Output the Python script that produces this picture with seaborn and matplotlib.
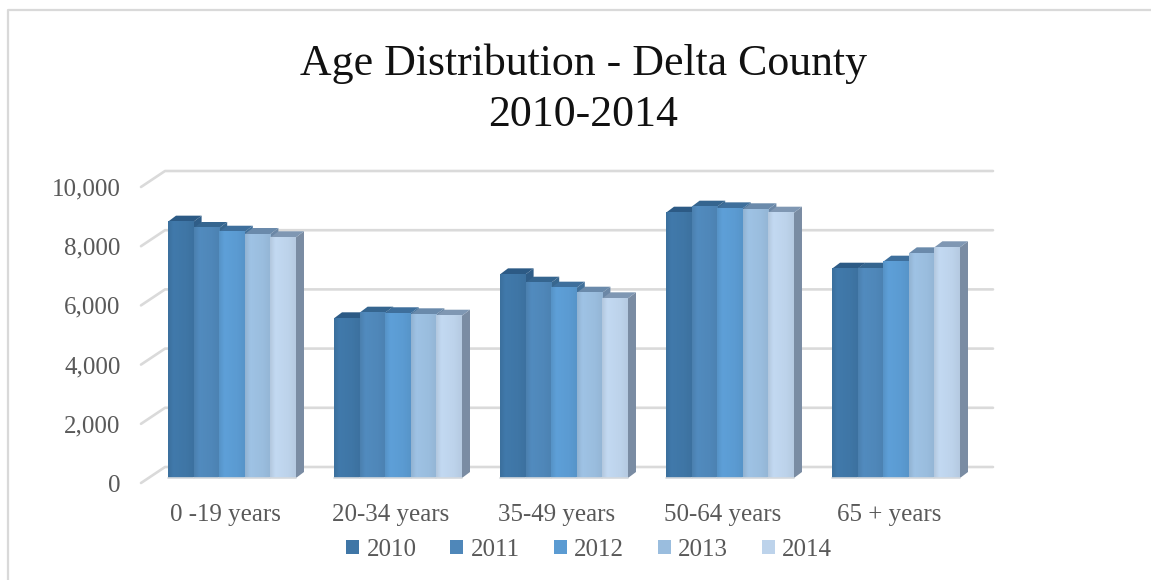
import matplotlib
matplotlib.use("Agg")
import matplotlib.pyplot as plt
import seaborn as sns
import numpy as np
import pandas as pd
from matplotlib.colors import to_rgb
from matplotlib.patches import Polygon
from matplotlib.transforms import Affine2D, IdentityTransform

# values
age_groups = ['0 -19 years', '20-34 years', '35-49 years', '50-64 years', '65 + years']
years = ['2010', '2011', '2012', '2013', '2014']
y2010 = [8660, 5395, 6880, 8963, 7071]
y2011 = [8446, 5585, 6598, 9166, 7071]
y2012 = [8320, 5565, 6430, 9110, 7308]
y2013 = [8243, 5530, 6260, 9078, 7590]
y2014 = [8132, 5483, 6070, 8963, 7794]
y_ticks = [0, 2000, 4000, 6000, 8000, 10000]

FRONT = ['#3F76A6', '#4F87B9', '#5B9BD2', '#9ABDDE', '#BDD3EB']
TOPS = ['#2C5A85', '#35658F', '#3E6F9C', '#6A8AAB', '#7F97B3']
SIDES = ['#2F5D88', '#38678F', '#41709A', '#6B87A6', '#7A8CA3']
TEXT = '#595959'
GRID = '#DADADA'

W, H = 1151, 580
AX_LEFT, AX_RIGHT, AX_BASE, AX_TOP = 149, 979, 478, 182
BAR_DX, BAR_DY = 8, 6


def bar_shade(colour):
    # soft left to right falloff like the office 3D bars
    base = np.array(to_rgb(colour))
    pos = np.linspace(0, 1, 24)
    factor = np.interp(pos, [0, 0.2, 0.7, 1], [0.95, 1.03, 1.0, 0.96])
    return np.clip(base[None, :] * factor[:, None], 0, 1)[None, :, :]


df = pd.DataFrame({'age': age_groups, '2010': y2010, '2011': y2011, '2012': y2012,
                   '2013': y2013, '2014': y2014})
long_df = df.melt(id_vars='age', var_name='year', value_name='people')

sns.set_theme(style='white')
plt.rcParams['font.family'] = ['Liberation Serif', 'DejaVu Serif']

fig = plt.figure(figsize=(W / 100, H / 100), dpi=100)
ax = fig.add_axes([AX_LEFT / W, 1 - AX_BASE / H, (AX_RIGHT - AX_LEFT) / W, (AX_BASE - AX_TOP) / H])

sns.barplot(data=long_df, x='age', y='people', hue='year', order=age_groups, hue_order=years,
            palette=FRONT, width=0.771, gap=0, saturation=1, ax=ax, linewidth=0)
ax.set_xlim(-0.5, 4.5)
ax.set_ylim(0, 10000)
ax.set_xlabel('')
ax.set_ylabel('')
sns.despine(ax=ax, left=True, bottom=True)
ax.patch.set_alpha(0)

ax.set_yticks(y_ticks)
ax.set_yticklabels([f'{v:,}' for v in y_ticks])
ax.tick_params(axis='y', length=0, pad=20.5, labelsize=18, labelcolor=TEXT)
ax.tick_params(axis='x', length=0, pad=19, labelsize=18, labelcolor=TEXT)
for lab in ax.get_yticklabels():
    lab.set_transform(lab.get_transform() + Affine2D().translate(0, -5))
for lab in ax.get_xticklabels():
    lab.set_transform(lab.get_transform() + Affine2D().translate(-7, 0))

# back wall gridlines plus the short floor ticks at their left ends
to_px = ax.transData
for v in y_ticks:
    x0, y0 = to_px.transform((-0.5, v))
    x1, _ = to_px.transform((4.5, v))
    ax.plot([x0 - 8, x0 + 16, x1 + 14], [y0 - 5, y0 + 11, y0 + 11], color=GRID, lw=1.9,
            transform=IdentityTransform(), clip_on=False, zorder=0.5, solid_joinstyle='round')

# pseudo 3D: top and side faces follow each seaborn bar
z = 2
all_bars = []
for i, cont in enumerate(ax.containers):
    for bar in cont:
        all_bars.append((bar.get_x(), i, bar))
for _, i, bar in sorted(all_bars, key=lambda t: t[0]):
    (xa, ya), (xb, yb) = to_px.transform([(bar.get_x(), 0), (bar.get_x() + bar.get_width(), bar.get_height())])
    top = [(xa, yb), (xb, yb), (xb + BAR_DX, yb + BAR_DY), (xa + BAR_DX, yb + BAR_DY)]
    side = [(xb, ya), (xb, yb), (xb + BAR_DX, yb + BAR_DY), (xb + BAR_DX, ya + BAR_DY)]
    ax.add_patch(Polygon(side, closed=True, fc=SIDES[i], ec='none', transform=IdentityTransform(),
                         clip_on=False, zorder=z))
    ax.add_patch(Polygon(top, closed=True, fc=TOPS[i], ec='none', transform=IdentityTransform(),
                         clip_on=False, zorder=z + 0.1))
    bar.set_zorder(z + 0.2)
    ax.imshow(bar_shade(FRONT[i]), aspect='auto', interpolation='bilinear', zorder=z + 0.3,
              extent=(bar.get_x(), bar.get_x() + bar.get_width(), 0, bar.get_height()))
    ax.plot([xa, xb], [ya, ya], color='#D4D8DC', lw=1.2, transform=IdentityTransform(),
            clip_on=False, zorder=z + 0.4)
    z += 1
ax.set_xlim(-0.5, 4.5)
ax.set_ylim(0, 10000)

handles, labels = ax.get_legend_handles_labels()
ax.legend(handles, labels, ncol=5, frameon=False, loc='center', fontsize=18, labelcolor=TEXT,
          bbox_to_anchor=(589 / W, 1 - 550 / H), bbox_transform=fig.transFigure,
          handlelength=0.52, handleheight=0.52, handletextpad=0.28, columnspacing=1.36,
          borderpad=0, borderaxespad=0)

fig.suptitle('Age Distribution - Delta County\n2010-2014', x=583 / W, y=1 - 89 / H, va='center',
             ha='center', fontsize=31.6, color='#111111', linespacing=1.37)

# chart frame: only top and left edges are in the picture
fig.add_artist(plt.Line2D([8 / W, 8 / W, 1], [0, 1 - 10 / H, 1 - 10 / H], color='#D9D9D9', lw=1.6))

plt.savefig('out.png', dpi=100)
plt.close()
